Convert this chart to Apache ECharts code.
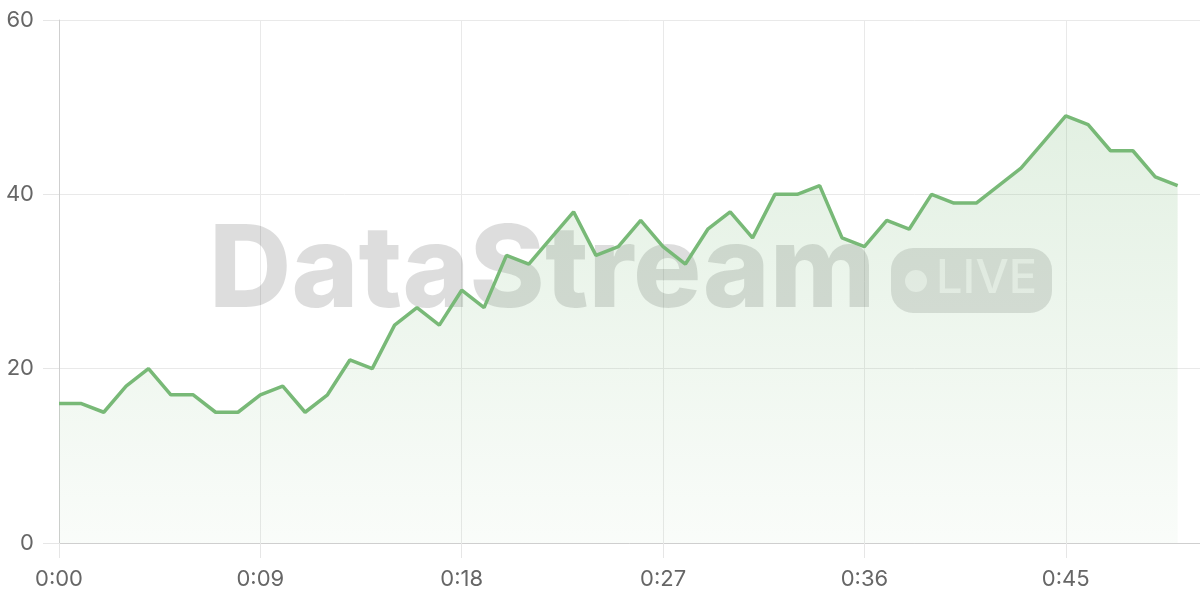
<!DOCTYPE html>
<html>
<head>
<meta charset="utf-8">
<script src="https://cdn.jsdelivr.net/npm/echarts@6/dist/echarts.min.js"></script>
<style>
html,body{margin:0;padding:0;background:#fff;}
#c{width:1200px;height:600px;}
</style>
</head>
<body>
<div id="c"></div>
<script>
const categories = [
  "0:00","0:01","0:02","0:03","0:04","0:05","0:06","0:07","0:08","0:09",
  "0:10","0:11","0:12","0:13","0:14","0:15","0:16","0:17","0:18","0:19",
  "0:20","0:21","0:22","0:23","0:24","0:25","0:26","0:27","0:28","0:29",
  "0:30","0:31","0:32","0:33","0:34","0:35","0:36","0:37","0:38","0:39",
  "0:40","0:41","0:42","0:43","0:44","0:45","0:46","0:47","0:48","0:49",
  "0:50","0:51"
];
const values = [
  16,16,15,18,20,17,17,15,15,17,
  18,15,17,21,20,25,27,25,29,27,
  33,32,35,38,33,34,37,34,32,36,
  38,35,40,40,41,35,34,37,36,40,
  39,39,41,43,46,49,48,45,45,42,
  41,null
];
const yTicks = { min: 0, max: 60, interval: 20 };

const chart = echarts.init(document.getElementById('c'));
const labelFont = 'Inter, "Liberation Sans", sans-serif';
chart.setOption({
  animation: false,
  backgroundColor: '#fff',
  grid: { left: 59, right: 0, top: 20, bottom: 57, containLabel: false },
  xAxis: {
    type: 'category',
    data: categories,
    boundaryGap: false,
    axisLine: { show: true, lineStyle: { color: '#cfcfcf', width: 1 } },
    axisTick: { show: true, interval: 8, length: 15, lineStyle: { color: '#e6e6e6' } },
    axisLabel: { interval: 8, margin: 25, fontSize: 22, color: '#666', fontFamily: labelFont },
    splitLine: { show: true, interval: 8, lineStyle: { color: '#e9e9e9', width: 1 } }
  },
  yAxis: {
    type: 'value',
    min: yTicks.min, max: yTicks.max, interval: yTicks.interval,
    axisLine: { show: true, lineStyle: { color: '#cfcfcf', width: 1 } },
    axisTick: { show: true, length: 16, lineStyle: { color: '#e6e6e6' } },
    axisLabel: { margin: 25, fontSize: 22, color: '#666', fontFamily: labelFont },
    splitLine: { show: true, lineStyle: { color: '#e9e9e9', width: 1 } }
  },
  graphic: [
    {
      type: 'text', z: 1, silent: true,
      left: 209, top: 216,
      style: {
        text: 'DataStream',
        fontSize: 114, fontWeight: 800,
        fontFamily: 'Inter, "Noto Sans", sans-serif',
        fill: 'rgba(0,0,0,0.135)'
      }
    },
    {
      type: 'rect', z: 1, silent: true,
      shape: { x: 891, y: 248, width: 161, height: 65, r: 22 },
      style: { fill: 'rgba(0,0,0,0.12)' }
    },
    {
      type: 'circle', z: 1, silent: true,
      shape: { cx: 916, cy: 281, r: 11 },
      style: { fill: 'rgba(255,255,255,0.6)' }
    },
    {
      type: 'text', z: 1, silent: true,
      left: 936, top: 255,
      style: {
        text: 'LIVE', fontSize: 47, fontWeight: 500,
        fontFamily: 'Inter, "Noto Sans", sans-serif',
        fill: 'rgba(255,255,255,0.6)'
      }
    }
  ],
  series: [{
    type: 'line',
    data: values,
    z: 2,
    symbol: 'none',
    smooth: false,
    lineStyle: { color: '#78b977', width: 3.5 },
    itemStyle: { color: '#78b977' },
    areaStyle: {
      color: new echarts.graphic.LinearGradient(0, 0, 0, 1, [
        { offset: 0, color: 'rgba(120,185,119,0.30)' },
        { offset: 1, color: 'rgba(120,185,119,0.06)' }
      ])
    }
  }]
});
</script>
</body>
</html>
